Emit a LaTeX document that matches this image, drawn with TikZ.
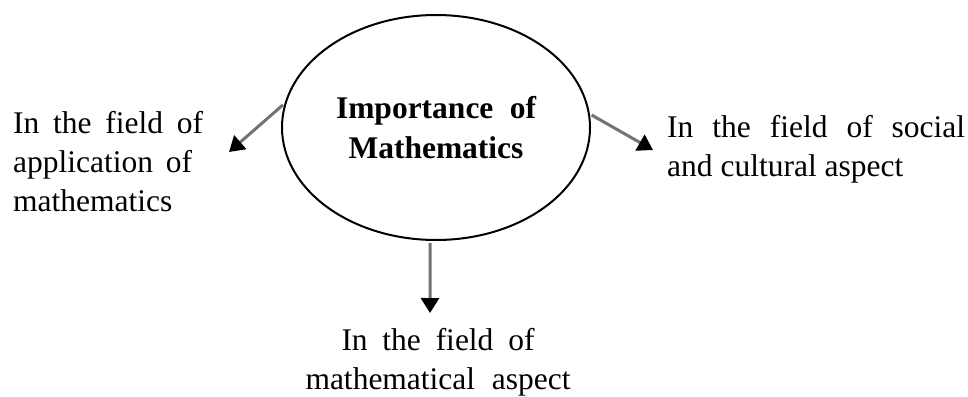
\documentclass[tikz,border=0pt]{standalone}
\usepackage{fontspec}
\setmainfont{Liberation Serif}
\usetikzlibrary{arrows.meta,shapes.geometric}

\begin{document}
\begin{tikzpicture}[
    x=1pt, y=-1pt,
% Block styles
    core/.style={ellipse, draw=black, line width=2pt, minimum width=308pt, minimum height=225pt, inner sep=0pt, align=center, font=\fontsize{31.5}{40}\selectfont\bfseries},
    field/.style={inner sep=0pt, font=\fontsize{31.5}{39}\selectfont},
    link/.style={-{Triangle[length=15pt, width=18pt, color=black]}, line width=3pt, draw=black!55, shorten <=2pt}
]
\useasboundingbox (0,0) rectangle (968,396);

% 1. Central ellipse
\node[core] (imp) at (436,127.5) {\makebox[200pt][s]{Importance of}\\Mathematics};

% 2. The three fields
\node[field, anchor=north west, align=left] (appl) at (13,111.5)
    {\makebox[190pt][s]{In the field of}\\\makebox[179pt][s]{application of}\\mathematics};
\node[field, anchor=north west, align=left] (social) at (667,115.5)
    {\makebox[298pt][s]{In the field of social}\\and cultural aspect};
\node[field, anchor=north, align=center] (aspect) at (438,328)
    {\makebox[193pt][s]{In the field of}\\\makebox[265pt][s]{mathematical aspect}};

% Arrow tips
\coordinate (appltip) at (229,152);
\coordinate (socialtip) at (653,150);
\coordinate (aspecttip) at (430,313);

% Arrows ellipse -> fields
\draw[link] (imp.171) -- (appltip);
\draw[link] (imp.5) -- (socialtip);
\draw[link] (imp.267) -- (aspecttip);

\end{tikzpicture}
\end{document}
